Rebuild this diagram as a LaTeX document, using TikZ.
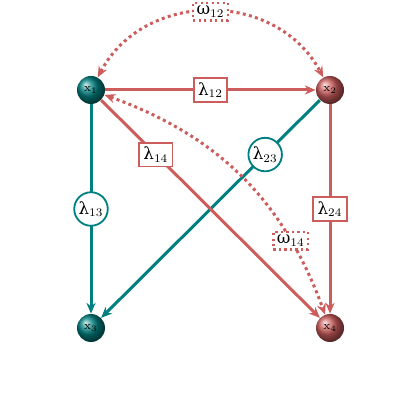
\documentclass[tikz,border=0pt]{standalone}
\usepackage{fontspec}
\newfontfamily\gk{DejaVu Serif}
\usetikzlibrary{arrows.meta,shapes.geometric}
\definecolor{myred}{RGB}{205,92,92}
\definecolor{myteal}{RGB}{0,128,128}
\tikzset{
  ball/.style={circle, shading=ball, minimum size=16.8pt, inner sep=0pt, font=\scriptsize},
  redball/.style={ball, ball color=myred},
  tealball/.style={ball, ball color=myteal},
  tip/.style={-{Stealth[length=6.5pt,width=5.5pt]}},
  rededge/.style={draw=myred, line width=1.8pt, tip},
  tealedge/.style={draw=myteal, line width=1.8pt, tip},
  corredge/.style={draw=myred, line width=1.8pt, dotted, {Stealth[length=6.5pt,width=5.5pt]}-{Stealth[length=6.5pt,width=5.5pt]}},
  rlab/.style={draw=myred, line width=1.1pt, fill=white, rectangle, inner sep=2.6pt, font=\normalsize, solid},
  tlab/.style={draw=myteal, line width=1.1pt, fill=white, circle, inner sep=1pt, minimum size=16pt, font=\normalsize, solid},
  clab/.style={draw=myred, line width=1.3pt, fill=white, rectangle, inner sep=2pt, font=\normalsize, dotted},
}
\begin{document}
\begin{tikzpicture}[x=0.6pt,y=0.6pt]
\useasboundingbox (0,0) rectangle (420,420);
\node[tealball] (x1) at (91,330) {x$_1$};
\node[redball] (x2) at (330,330) {x$_2$};
\node[tealball] (x3) at (91,92) {x$_3$};
\node[redball] (x4) at (330,92) {x$_4$};
% teal edges
\draw[tealedge] (x1) -- node[tlab] (l13) {{\gk λ}$_{13}$} (x3);
\draw[tealedge] (x2) -- node[tlab, pos=0.25] (l23) {{\gk λ}$_{23}$} (x3);
% red edges
\draw[rededge] (x1) -- node[rlab] (l12) {{\gk λ}$_{12}$} (x2);
\draw[rededge] (x1) -- node[rlab, pos=0.25] (l14) {{\gk λ}$_{14}$} (x4);
\draw[rededge] (x2) -- node[rlab] (l24) {{\gk λ}$_{24}$} (x4);
% correlations
\draw[corredge] (x1) to[bend left=62, looseness=1.13] node[clab] (w12) {{\gk ω}$_{12}$} (x2);
\draw[corredge] (x1) to[bend left=25] node[clab, pos=0.76] (w14) {{\gk ω}$_{14}$} (x4);
\end{tikzpicture}
\end{document}
